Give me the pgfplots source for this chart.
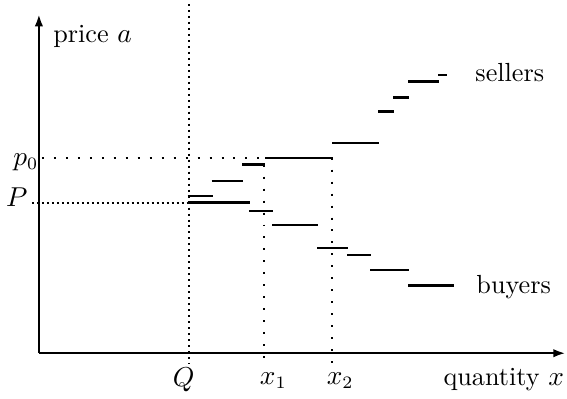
\documentclass[border=0pt]{standalone}
\usepackage{pgfplots}
\pgfplotsset{compat=1.18}
\usetikzlibrary{arrows.meta}
\begin{document}
\begin{tikzpicture}[every node/.append style={font=\fontsize{10.5}{12.6}\selectfont}]
\begin{axis}[
  x=0.4pt, y=0.4pt,
  xmin=0, xmax=528, ymin=0, ymax=340,
  enlargelimits=false,
  axis lines=left,
  axis line style={line width=1pt, -{Latex[length=5pt,width=3.4pt]}},
  xtick=\empty, ytick=\empty,
  clip=false,
  thin seg/.style={black, line width=0.8pt, no marks},
  thick seg/.style={black, line width=1.2pt, no marks},
  sparse dots/.style={black, line width=0.8pt, no marks, dash pattern=on 0.8pt off 4pt},
  dense dots/.style={black, line width=0.8pt, no marks, dash pattern=on 0.8pt off 1.2pt},
  vdots/.style={black, line width=0.8pt, no marks, dash pattern=on 0.8pt off 1.6pt},
]
\path (axis cs:-39,-45) rectangle (axis cs:528,354);
% dotted guide lines
\addplot[sparse dots] coordinates {(3,196) (226,196)};
\addplot[dense dots] coordinates {(-7,151) (149,151)};
\addplot[vdots] coordinates {(150,350) (150,-11)};
\addplot[sparse dots] coordinates {(226,189) (226,-11)};
\addplot[sparse dots] coordinates {(294,196) (294,-11)};
% sellers
\addplot[thin seg]  coordinates {(149,158) (174,158)};
\addplot[thin seg]  coordinates {(173,173) (205,173)};
\addplot[thick seg] coordinates {(204,189) (227,189)};
\addplot[thin seg]  coordinates {(227,196) (295,196)};
\addplot[thin seg]  coordinates {(294,211) (341,211)};
\addplot[thick seg] coordinates {(340,242) (356,242)};
\addplot[thick seg] coordinates {(355,256) (371,256)};
\addplot[thick seg] coordinates {(370,272) (401,272)};
\addplot[thin seg]  coordinates {(400,279) (409,279)};
% buyers
\addplot[thick seg] coordinates {(149,151) (212,151)};
\addplot[thin seg]  coordinates {(211,143) (235,143)};
\addplot[thin seg]  coordinates {(234,128) (280,128)};
\addplot[thin seg]  coordinates {(279,105) (310,105)};
\addplot[thin seg]  coordinates {(309,98) (333,98)};
\addplot[thin seg]  coordinates {(332,83) (371,83)};
\addplot[thick seg] coordinates {(370,68) (416,68)};
% labels
\node[anchor=base west, inner sep=0pt] at (axis cs:14,311) {price $a$};
\node[anchor=base east, inner sep=0pt] at (axis cs:0,188) {$p_0$};
\node[anchor=base east, inner sep=0pt] at (axis cs:-11,147) {$P$};
\node[anchor=base, inner sep=0pt] at (axis cs:145,-33) {$Q$};
\node[anchor=base west, inner sep=0pt] at (axis cs:221,-31) {$x_1$};
\node[anchor=base west, inner sep=0pt] at (axis cs:288,-31) {$x_2$};
\node[anchor=base west, inner sep=0pt] at (axis cs:405,-32) {quantity $x$};
\node[anchor=base west, inner sep=0pt] at (axis cs:437,272) {sellers};
\node[anchor=base west, inner sep=0pt] at (axis cs:438,60) {buyers};
\end{axis}
\end{tikzpicture}
\end{document}
